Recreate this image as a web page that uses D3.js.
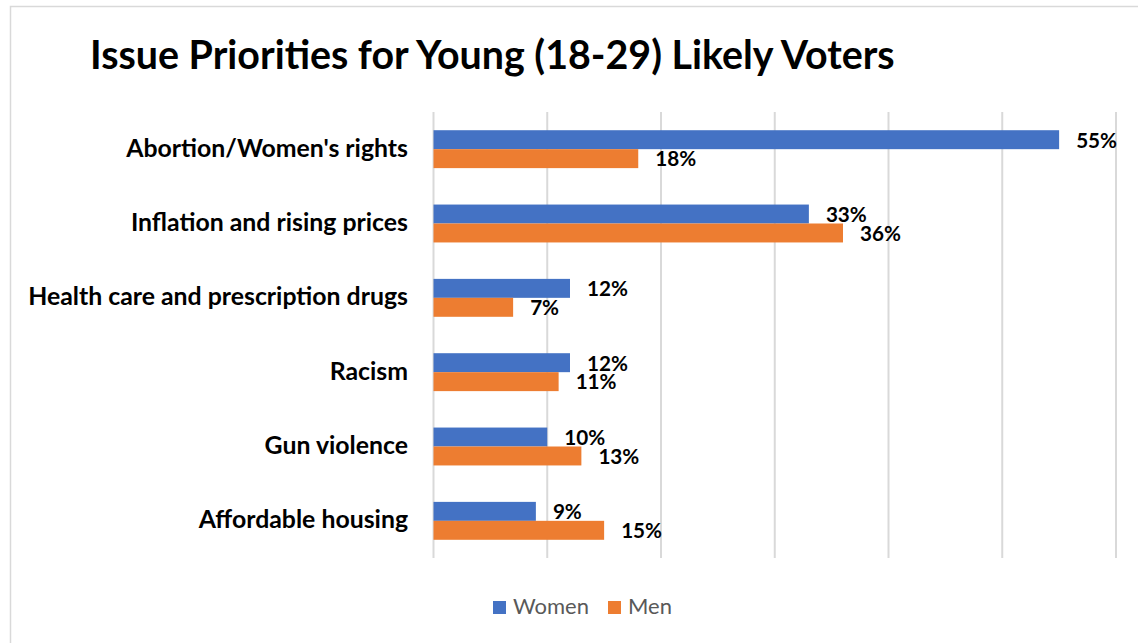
<!DOCTYPE html>
<html><head><meta charset="utf-8">
<script src="https://cdn.jsdelivr.net/npm/d3@7"></script>
<style>body{margin:0;background:#fff;}svg{display:block;}</style>
</head><body>
<svg id="c" width="1138" height="643"></svg>
<script>
const categories = ["Abortion/Women's rights","Inflation and rising prices","Health care and prescription drugs","Racism","Gun violence","Affordable housing"];
const seriesNames = ["Women","Men"];
const women = [0.55,0.33,0.12,0.12,0.10,0.09];
const men = [0.18,0.36,0.07,0.11,0.13,0.15];
const xTicks = [0,0.1,0.2,0.3,0.4,0.5,0.6];
const colors = ["#4472C4","#ED7D31"];
const title = "Issue Priorities for Young (18-29) Likely Voters";

const svg = d3.select("#c");
const FONT = "Lato, 'Open Sans', sans-serif";
svg.append("rect").attr("x",10.5).attr("y",6.5).attr("width",1140).attr("height",650)
  .attr("fill","#fff").attr("stroke","#D9D9D9").attr("stroke-width",1.5);

function fit(sel, w){ const l = sel.node().getComputedTextLength(); const fs = parseFloat(sel.attr("font-size")); sel.attr("font-size", fs*w/l); }

const t = svg.append("text").attr("x",90).attr("y",69).attr("font-family",FONT).attr("font-weight","bold")
  .attr("font-size",34).attr("fill","#000").text(title);
fit(t, 805);

const x = d3.scaleLinear().domain([0,0.6]).range([433.5,1116]);
const y0 = d3.scaleBand().domain(categories).range([112,558]).paddingInner(0.49).paddingOuter(0.245);
const y1 = d3.scaleBand().domain(seriesNames).range([0,y0.bandwidth()]);

svg.append("g").selectAll("line").data(xTicks).join("line")
  .attr("x1",d=>x(d)).attr("x2",d=>x(d)).attr("y1",112).attr("y2",558)
  .attr("stroke","#D9D9D9").attr("stroke-width",2);

const data = categories.map((c,i)=>({c, vals:[women[i],men[i]]}));
const g = svg.append("g").selectAll("g").data(data).join("g").attr("transform",d=>`translate(0,${y0(d.c)})`);
g.selectAll("rect").data(d=>d.vals.map((v,j)=>({v,s:seriesNames[j],j}))).join("rect")
  .attr("x",x(0)).attr("y",d=>y1(d.s)).attr("width",d=>x(d.v)-x(0)).attr("height",y1.bandwidth())
  .attr("fill",d=>colors[d.j]);
const vl = g.selectAll("text").data(d=>d.vals.map((v,j)=>({v,s:seriesNames[j],j}))).join("text")
  .attr("x",d=>x(d.v)+17).attr("y",d=>y1(d.s)+y1.bandwidth()/2+2.5).attr("dominant-baseline","middle")
  .attr("font-family",FONT).attr("font-weight","bold").attr("font-size",18).attr("fill","#000")
  .text(d=>d3.format(".0%")(d.v));
const vl0 = vl.filter(d=>d.v===0.55);
const vw = vl0.node().getComputedTextLength();
vl.attr("font-size", 18*41/vw);

const cl = svg.append("g").selectAll("text").data(categories).join("text")
  .attr("x",408).attr("y",d=>y0(d)+y0.bandwidth()/2+1).attr("text-anchor","end").attr("dominant-baseline","middle")
  .attr("font-family",FONT).attr("font-weight","bold").attr("font-size",20).attr("fill","#000").text(d=>d);
const longest = cl.filter((d,i)=>i===2);
const l0 = longest.node().getComputedTextLength();
cl.attr("font-size", 20*380/l0);

const leg = svg.append("g");
const legX = [493,608];
seriesNames.forEach((s,i)=>{
  leg.append("rect").attr("x",legX[i]).attr("y",601).attr("width",13).attr("height",13).attr("fill",colors[i]);
  const lt = leg.append("text").attr("x",legX[i]+20).attr("y",608.5).attr("dominant-baseline","middle")
    .attr("font-family",FONT).attr("font-size",19).attr("fill","#595959").text(s);
  if(i===0) fit(lt, 76);
  else lt.attr("font-size", leg.select("text").attr("font-size"));
});
</script>
</body></html>
